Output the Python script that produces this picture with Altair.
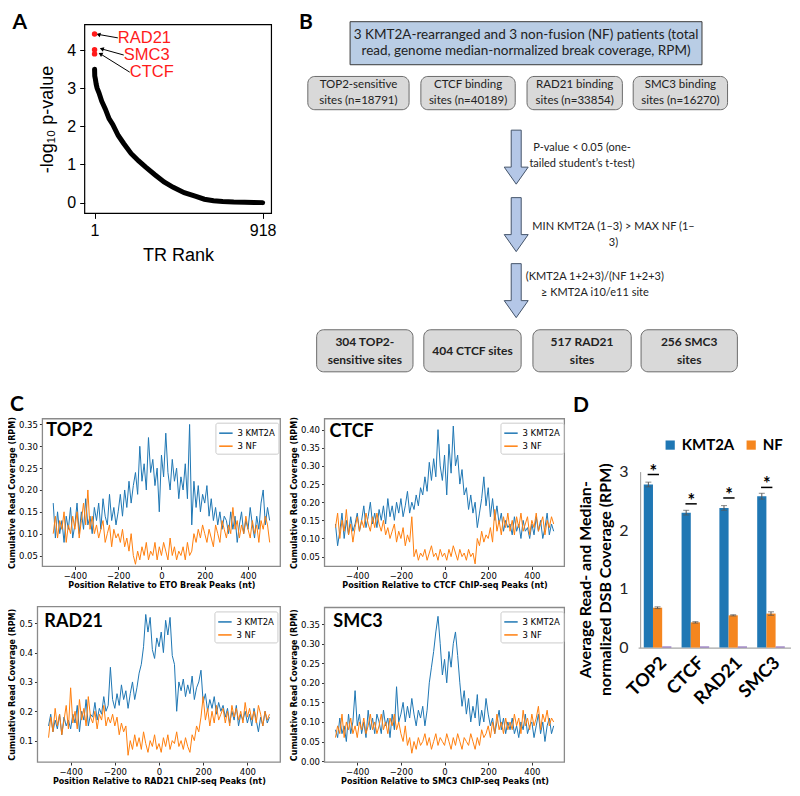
import altair as alt
import pandas as pd

# ---------------------------------------------------------------- layout helpers
W, H = 784, 780


def cx(x):
    return (x - 1) * 0.983


def cy(y):
    return (y - 1) * 0.978


# ---------------------------------------------------------------- data: panel A
tr_rank = [1, 2, 5, 10, 15, 25, 40, 60, 80, 100, 130, 160, 200, 240, 280, 330,
           380, 430, 490, 550, 600, 650, 700, 760, 820, 870, 918]
tr_logp = [3.50, 3.32, 3.25, 3.10, 3.00, 2.88, 2.66, 2.45, 2.20, 2.05, 1.76, 1.55,
           1.29, 1.10, 0.93, 0.73, 0.54, 0.40, 0.26, 0.17, 0.09, 0.05, 0.03, 0.015,
           0.01, 0.005, 0.0]
top_names = ["RAD21", "SMC3", "CTCF"]
top_rank = [1, 1, 1]
top_logp = [4.42, 4.01, 3.90]

# ---------------------------------------------------------------- data: panel B
header_lines = ["3 KMT2A-rearranged and 3 non-fusion (NF) patients (total",
                "read, genome median-normalized break coverage, RPM)"]
input_sets = [["TOP2-sensitive", "sites (n=18791)"], ["CTCF binding", "sites (n=40189)"],
              ["RAD21 binding", "sites (n=33854)"], ["SMC3 binding", "sites (n=16270)"]]
filter_steps = [["P-value < 0.05 (one-", "tailed student\u2019s t-test)"],
                ["MIN KMT2A (1\u20133) > MAX NF (1\u2013", "3)"],
                ["(KMT2A 1+2+3)/(NF 1+2+3)", "\u2265 KMT2A i10/e11 site"]]
output_sets = [["304 TOP2-", "sensitive sites"], ["404 CTCF sites"],
               ["517 RAD21", "sites"], ["256 SMC3", "sites"]]

# ---------------------------------------------------------------- data: panel C
positions = list(range(-500, 501, 10))
top2_kmt2a = [
    0.17, 0.09, 0.15, 0.10, 0.13, 0.08, 0.14, 0.11, 0.16, 0.09,
    0.12, 0.17, 0.10, 0.15, 0.11, 0.18, 0.12, 0.14, 0.10, 0.16,
    0.13, 0.17, 0.11, 0.18, 0.14, 0.12, 0.19, 0.13, 0.16, 0.12,
    0.15, 0.19, 0.14, 0.20, 0.16, 0.22, 0.17, 0.21, 0.24, 0.19,
    0.30, 0.22, 0.26, 0.20, 0.32, 0.24, 0.27, 0.21, 0.25, 0.15,
    0.28, 0.23, 0.33, 0.24, 0.20, 0.27, 0.22, 0.25, 0.18, 0.23,
    0.20, 0.26, 0.18, 0.35, 0.12, 0.22, 0.16, 0.21, 0.15, 0.19,
    0.17, 0.21, 0.14, 0.18, 0.13, 0.16, 0.12, 0.15, 0.11, 0.14,
    0.13, 0.10, 0.15, 0.11, 0.14, 0.08, 0.12, 0.15, 0.10, 0.13,
    0.11, 0.16, 0.12, 0.09, 0.14, 0.11, 0.17, 0.20, 0.12, 0.16,
    0.13]
top2_nf = [
    0.10, 0.14, 0.09, 0.13, 0.11, 0.15, 0.08, 0.12, 0.10, 0.14,
    0.11, 0.15, 0.09, 0.13, 0.17, 0.12, 0.20, 0.11, 0.14, 0.10,
    0.12, 0.09, 0.11, 0.13, 0.08, 0.10, 0.12, 0.07, 0.11, 0.09,
    0.10, 0.08, 0.11, 0.07, 0.09, 0.06, 0.10, 0.05, 0.03, 0.06,
    0.04, 0.07, 0.05, 0.08, 0.04, 0.06, 0.05, 0.08, 0.04, 0.07,
    0.05, 0.08, 0.06, 0.04, 0.09, 0.05, 0.07, 0.04, 0.06, 0.05,
    0.07, 0.04, 0.08, 0.05, 0.06, 0.10, 0.08, 0.11, 0.09, 0.12,
    0.10, 0.08, 0.11, 0.09, 0.07, 0.12, 0.10, 0.08, 0.13, 0.11,
    0.09, 0.12, 0.10, 0.16, 0.11, 0.13, 0.09, 0.12, 0.10, 0.14,
    0.11, 0.09, 0.13, 0.10, 0.12, 0.08, 0.13, 0.11, 0.14, 0.12,
    0.08]
ctcf_kmt2a = [
    0.14, 0.08, 0.12, 0.17, 0.10, 0.15, 0.11, 0.16, 0.12, 0.14,
    0.17, 0.12, 0.15, 0.19, 0.13, 0.16, 0.20, 0.14, 0.17, 0.13,
    0.18, 0.15, 0.19, 0.14, 0.21, 0.16, 0.19, 0.15, 0.20, 0.17,
    0.21, 0.16, 0.19, 0.23, 0.17, 0.20, 0.18, 0.22, 0.19, 0.24,
    0.22, 0.27, 0.23, 0.31, 0.26, 0.32, 0.27, 0.40, 0.30, 0.26,
    0.33, 0.22, 0.36, 0.28, 0.41, 0.30, 0.33, 0.25, 0.29, 0.22,
    0.24, 0.18, 0.22, 0.17, 0.20, 0.13, 0.17, 0.21, 0.27, 0.19,
    0.24, 0.16, 0.21, 0.15, 0.19, 0.14, 0.17, 0.12, 0.15, 0.13,
    0.14, 0.11, 0.16, 0.12, 0.14, 0.10, 0.15, 0.12, 0.13, 0.10,
    0.14, 0.11, 0.16, 0.12, 0.15, 0.10, 0.13, 0.17, 0.11, 0.14,
    0.12]
ctcf_nf = [
    0.13, 0.17, 0.10, 0.15, 0.12, 0.18, 0.11, 0.14, 0.09, 0.13,
    0.16, 0.12, 0.15, 0.13, 0.17, 0.14, 0.12, 0.16, 0.13, 0.17,
    0.14, 0.12, 0.15, 0.11, 0.13, 0.10, 0.12, 0.14, 0.09, 0.12,
    0.10, 0.13, 0.08, 0.11, 0.09, 0.16, 0.05, 0.07, 0.04, 0.06,
    0.05, 0.07, 0.04, 0.06, 0.08, 0.05, 0.06, 0.04, 0.07, 0.05,
    0.06, 0.04, 0.07, 0.05, 0.08, 0.06, 0.04, 0.07, 0.05, 0.06,
    0.04, 0.07, 0.05, 0.06, 0.03, 0.10, 0.08, 0.12, 0.09, 0.11,
    0.10, 0.13, 0.09, 0.18, 0.12, 0.15, 0.11, 0.16, 0.13, 0.17,
    0.12, 0.15, 0.11, 0.16, 0.13, 0.17, 0.12, 0.14, 0.16, 0.11,
    0.15, 0.13, 0.17, 0.12, 0.14, 0.16, 0.11, 0.15, 0.13, 0.16,
    0.14]
rad21_kmt2a = [
    0.15, 0.19, 0.13, 0.17, 0.14, 0.19, 0.12, 0.18, 0.15, 0.17,
    0.14, 0.19, 0.16, 0.22, 0.13, 0.20, 0.17, 0.24, 0.15, 0.19,
    0.18, 0.23, 0.17, 0.21, 0.19, 0.25, 0.20, 0.22, 0.35, 0.24,
    0.21, 0.26, 0.22, 0.29, 0.24, 0.27, 0.21, 0.26, 0.30, 0.24,
    0.28, 0.33, 0.36, 0.42, 0.53, 0.47, 0.52, 0.41, 0.38, 0.45,
    0.42, 0.47, 0.40, 0.51, 0.46, 0.52, 0.39, 0.36, 0.20, 0.30,
    0.27, 0.31, 0.25, 0.29, 0.26, 0.32, 0.24, 0.28, 0.30, 0.34,
    0.23, 0.26, 0.20, 0.24, 0.21, 0.25, 0.19, 0.23, 0.20, 0.22,
    0.18, 0.21, 0.16, 0.20, 0.17, 0.22, 0.15, 0.19, 0.17, 0.20,
    0.16, 0.19, 0.15, 0.21, 0.17, 0.13, 0.18, 0.15, 0.20, 0.16,
    0.18]
rad21_nf = [
    0.11, 0.18, 0.13, 0.21, 0.15, 0.19, 0.12, 0.17, 0.22, 0.14,
    0.28, 0.16, 0.20, 0.14, 0.24, 0.17, 0.21, 0.15, 0.25, 0.18,
    0.16, 0.20, 0.14, 0.19, 0.17, 0.22, 0.15, 0.18, 0.16, 0.19,
    0.15, 0.18, 0.12, 0.16, 0.13, 0.15, 0.05, 0.10, 0.07, 0.12,
    0.08, 0.11, 0.07, 0.13, 0.09, 0.06, 0.10, 0.08, 0.12, 0.07,
    0.09, 0.06, 0.11, 0.08, 0.12, 0.07, 0.10, 0.09, 0.13, 0.08,
    0.10, 0.07, 0.11, 0.08, 0.06, 0.12, 0.10, 0.15, 0.13, 0.18,
    0.25, 0.17, 0.21, 0.15, 0.20, 0.16, 0.22, 0.17, 0.19, 0.21,
    0.16, 0.20, 0.15, 0.22, 0.18, 0.21, 0.17, 0.20, 0.16, 0.23,
    0.18, 0.21, 0.17, 0.20, 0.16, 0.22, 0.19, 0.15, 0.20, 0.17,
    0.19]
smc3_kmt2a = [
    0.08, 0.06, 0.11, 0.07, 0.09, 0.05, 0.12, 0.07, 0.10, 0.18,
    0.09, 0.12, 0.07, 0.10, 0.06, 0.13, 0.08, 0.11, 0.07, 0.12,
    0.10, 0.07, 0.13, 0.09, 0.11, 0.06, 0.12, 0.08, 0.19, 0.10,
    0.12, 0.15, 0.10, 0.14, 0.11, 0.16, 0.12, 0.09, 0.13, 0.11,
    0.14, 0.09, 0.13, 0.20, 0.24, 0.28, 0.33, 0.37, 0.30, 0.22,
    0.26, 0.20, 0.28, 0.24, 0.30, 0.33, 0.27, 0.20, 0.14, 0.18,
    0.12, 0.16, 0.10, 0.14, 0.11, 0.17, 0.09, 0.13, 0.10, 0.16,
    0.12, 0.09, 0.11, 0.07, 0.10, 0.13, 0.08, 0.11, 0.07, 0.10,
    0.08, 0.11, 0.07, 0.09, 0.06, 0.10, 0.08, 0.12, 0.07, 0.09,
    0.10, 0.06, 0.09, 0.12, 0.07, 0.10, 0.05, 0.09, 0.11, 0.07,
    0.09]
smc3_nf = [
    0.06, 0.09, 0.07, 0.12, 0.06, 0.10, 0.08, 0.11, 0.07, 0.09,
    0.06, 0.10, 0.08, 0.11, 0.07, 0.09, 0.12, 0.08, 0.10, 0.07,
    0.09, 0.12, 0.08, 0.10, 0.07, 0.11, 0.09, 0.12, 0.08, 0.10,
    0.07, 0.05, 0.09, 0.04, 0.06, 0.02, 0.05, 0.03, 0.06, 0.04,
    0.05, 0.07, 0.04, 0.06, 0.03, 0.05, 0.07, 0.04, 0.06, 0.05,
    0.04, 0.07, 0.05, 0.03, 0.06, 0.04, 0.07, 0.05, 0.03, 0.06,
    0.05, 0.04, 0.07, 0.05, 0.03, 0.06, 0.04, 0.08, 0.06, 0.07,
    0.09, 0.06, 0.10, 0.07, 0.12, 0.08, 0.10, 0.07, 0.11, 0.08,
    0.10, 0.08, 0.12, 0.09, 0.11, 0.07, 0.13, 0.09, 0.11, 0.08,
    0.12, 0.09, 0.11, 0.14, 0.08, 0.12, 0.10, 0.13, 0.09, 0.11,
    0.10]

# ---------------------------------------------------------------- data: panel D
d_cats = ["TOP2", "CTCF", "RAD21", "SMC3"]
d_kmt2a = [2.78, 2.30, 2.38, 2.58]
d_kmt2a_err = [0.04, 0.04, 0.04, 0.05]
d_nf = [0.68, 0.43, 0.55, 0.58]
d_nf_err = [0.015, 0.012, 0.01, 0.03]
d_other = [0.02, 0.02, 0.02, 0.02]
d_sig = [2.95, 2.45, 2.55, 2.73]

ONE = pd.DataFrame({"k": [0]})
BLUE, ORANGE = "#1f77b4", "#ff7f0e"

# ================================================================ panel A
ax0, ax1, ay0, ay1 = 79, 269, 18, 211
a_xdom, a_ydom = [-53, 966], [-0.282, 4.667]
xA = alt.Scale(domain=a_xdom, range=[cx(ax0), cx(ax1)], nice=False, zero=False)
yA = alt.Scale(domain=a_ydom, range=[cy(ay1), cy(ay0)], nice=False, zero=False)
fontA = "Liberation Sans"

a_curve = pd.DataFrame({"rank": tr_rank, "logp": tr_logp})
a_top = pd.DataFrame({"rank": top_rank, "logp": top_logp, "name": top_names})
# annotation layout (label anchor and arrow head, in data units)
a_ann = pd.DataFrame({
    "name": top_names,
    "lx": [128, 160, 193], "ly": [4.32, 3.87, 3.42],
    "hx": [22, 40, 33], "hy": [4.41, 4.03, 3.90],
    "ang": [284, 288, 299],
})

a_line = alt.Chart(a_curve).mark_line(color="black", strokeWidth=5, strokeCap="round").encode(
    x=alt.X("rank:Q", scale=xA, axis=alt.Axis(
        orient="bottom", offset=cy(ay1) - H, values=[1, 918], format="d", title="TR Rank",
        domain=False, tickColor="black", tickSize=5, labelFont=fontA, labelFontSize=16,
        labelColor="black", labelPadding=4, titleFont=fontA, titleFontSize=18,
        titleFontWeight="normal", titleColor="black", titlePadding=8)),
    y=alt.Y("logp:Q", scale=yA, axis=alt.Axis(
        orient="left", offset=-cx(ax0), values=[0, 1, 2, 3, 4], format="d",
        title="-log\u2081\u2080 p-value",
        domain=False, tickColor="black", tickSize=5, labelFont=fontA, labelFontSize=16,
        labelColor="black", labelPadding=4, titleFont=fontA, titleFontSize=18,
        titleFontWeight="normal", titleColor="black", titlePadding=10)),
)
a_frame = alt.Chart(ONE).mark_rect(filled=False, stroke="black", strokeWidth=1.2).encode(
    x=alt.datum(a_xdom[0]), x2=alt.datum(a_xdom[1]),
    y=alt.datum(a_ydom[0]), y2=alt.datum(a_ydom[1]))
a_red = alt.Chart(a_top).mark_circle(color="#ff1a1a", size=30, opacity=1).encode(
    x="rank:Q", y="logp:Q")
a_txt = alt.Chart(a_ann).mark_text(color="#ff1a1a", font=fontA, fontSize=16.5, align="left",
                                   baseline="middle").encode(x="lx:Q", y="ly:Q", text="name:N")
a_arr = alt.Chart(a_ann).mark_rule(color="black", strokeWidth=1).encode(
    x="lx:Q", y="ly:Q", x2="hx:Q", y2="hy:Q")
a_head = alt.Chart(a_ann).mark_point(shape="triangle-up", filled=True, color="black",
                                     size=22, opacity=1).encode(
    x="hx:Q", y="hy:Q", angle=alt.Angle("ang:Q", scale=None))
panelA = alt.layer(a_frame, a_line, a_arr, a_head, a_red, a_txt)

# ================================================================ panel B
xB = alt.Scale(domain=[0, 800], range=[cx(0), cx(800)], nice=False, zero=False)
yB = alt.Scale(domain=[0, 800], range=[cy(0), cy(800)], nice=False, zero=False)
fontB = "Lato"
LH = 16  # line height of flowchart text

in_x = [(306, 409), (421, 517), (529, 626), (637, 733)]
out_x = [(315, 413), (424, 523), (535, 635), (645, 743)]
in_y, out_y = (71, 105), (330, 373)
head_box = (349, 707, 15, 59)
arrow_x = 518
arrow_y = [153.5, 222.5, 290]
step_txt_xy = [(585, 152), (617, 233), (598, 284)]


def first_line_y(center, lines, lh):
    return center - (len(lines) - 1) * lh / 2


b_head = pd.DataFrame({"x0": [head_box[0]], "x1": [head_box[1]],
                       "y0": [head_box[2]], "y1": [head_box[3]]})
b_boxes = pd.DataFrame({
    "x0": [a for a, b in in_x] + [a for a, b in out_x],
    "x1": [b for a, b in in_x] + [b for a, b in out_x],
    "y0": [in_y[0]] * 4 + [out_y[0]] * 4,
    "y1": [in_y[1]] * 4 + [out_y[1]] * 4,
})
in_cy = (in_y[0] + in_y[1]) / 2
out_cy = (out_y[0] + out_y[1]) / 2
b_text_norm = pd.DataFrame({
    "t": ["\n".join(header_lines)] + ["\n".join(s) for s in input_sets]
         + ["\n".join(s) for s in filter_steps],
    "x": [(head_box[0] + head_box[1]) / 2] + [(a + b) / 2 for a, b in in_x]
         + [p[0] for p in step_txt_xy],
    "y": [first_line_y((head_box[2] + head_box[3]) / 2, header_lines, LH)]
         + [first_line_y(in_cy, s, LH) for s in input_sets]
         + [first_line_y(p[1], s, LH) for p, s in zip(step_txt_xy, filter_steps)],
    "fs": [13.5] + [11.5] * 4 + [11] * 3,
})
b_text_bold = pd.DataFrame({
    "t": ["\n".join(s) for s in output_sets],
    "x": [(a + b) / 2 for a, b in out_x],
    "y": [first_line_y(out_cy, s, LH + 2) for s in output_sets],
})
b_arrows = pd.DataFrame({"x": [arrow_x] * 3, "y": arrow_y})
ARROW = "M-0.185,-1L0.185,-1L0.185,0.37L0.444,0.37L0,1L-0.444,0.37L-0.185,0.37Z"

b_h = alt.Chart(b_head).mark_rect(fill="#b9cde5", stroke="#3a3a3a", strokeWidth=1).encode(
    x=alt.X("x0:Q", scale=xB, axis=None), x2="x1:Q",
    y=alt.Y("y0:Q", scale=yB, axis=None), y2="y1:Q")
b_b = alt.Chart(b_boxes).mark_rect(fill="#d9d9d9", stroke="#6b6b6b", strokeWidth=1,
                                   cornerRadius=7).encode(
    x="x0:Q", x2="x1:Q", y="y0:Q", y2="y1:Q")
b_a = alt.Chart(b_arrows).mark_point(shape=ARROW, size=2916, filled=True, fill="#b4c7e7",
                                     stroke="#44546a", strokeWidth=1, opacity=1).encode(
    x="x:Q", y="y:Q")
b_t1 = alt.Chart(b_text_norm).mark_text(font=fontB, color="#222", lineBreak="\n",
                                        lineHeight=LH, baseline="middle").encode(
    x="x:Q", y="y:Q", text="t:N", size=alt.Size("fs:Q", scale=None))
b_t2 = alt.Chart(b_text_bold).mark_text(font=fontB, fontWeight="bold", fontSize=12,
                                        color="#222", lineBreak="\n", lineHeight=LH + 2,
                                        baseline="middle").encode(
    x="x:Q", y="y:Q", text="t:N")
panelB = alt.layer(b_h, b_b, b_a, b_t1, b_t2)

# ================================================================ panel C
fontC = "DejaVu Sans"


def line_panel(name, xtitle, ka, nf, box, ydom, yvals, yfmt, leg_xy, lab_xy):
    left, right, top, bottom = box
    n = len(positions)
    df = pd.DataFrame({"pos": positions * 2, "val": ka + nf,
                       "series": ["3 KMT2A"] * n + ["3 NF"] * n})
    xdom = [-550, 549]
    xs = alt.Scale(domain=xdom, range=[cx(left), cx(right)], nice=False, zero=False)
    ys = alt.Scale(domain=ydom, range=[cy(bottom), cy(top)], nice=False, zero=False)
    common = dict(domain=False, tickColor="#333", tickSize=3, labelFont=fontC,
                  labelFontSize=8.5, labelColor="black", labelPadding=2, titleFont=fontC,
                  titleFontSize=8, titleFontWeight="bold", titleColor="black")
    lines = alt.Chart(df).mark_line(strokeWidth=1).encode(
        x=alt.X("pos:Q", scale=xs, axis=alt.Axis(
            orient="bottom", offset=cy(bottom) - H, values=[-400, -200, 0, 200, 400],
            title=xtitle, titlePadding=2, **common)),
        y=alt.Y("val:Q", scale=ys, axis=alt.Axis(
            orient="left", offset=-cx(left), values=yvals, format=yfmt,
            title="Cumulative Read Coverage (RPM)", titlePadding=2, **common)),
        color=alt.Color("series:N", title=None,
                        scale=alt.Scale(domain=["3 KMT2A", "3 NF"], range=[BLUE, ORANGE]),
                        legend=alt.Legend(orient="none", legendX=cx(leg_xy[0]),
                                          legendY=cy(leg_xy[1]), symbolType="stroke",
                                          symbolSize=180, symbolStrokeWidth=1.5,
                                          labelFont=fontC, labelFontSize=8.5,
                                          labelColor="black", fillColor="white",
                                          strokeColor="#cccccc", padding=3,
                                          cornerRadius=2, rowPadding=1, labelOffset=4)),
    )
    frame = alt.Chart(ONE).mark_rect(filled=False, stroke="#8a8a8a", strokeWidth=1.3).encode(
        x=alt.datum(xdom[0]), x2=alt.datum(xdom[1]),
        y=alt.datum(ydom[0]), y2=alt.datum(ydom[1]))
    label = alt.Chart(ONE).mark_text(text=name, font="Lato", fontWeight="bold", fontSize=18,
                                     align="left", baseline="middle", color="black").encode(
        x=alt.value(cx(lab_xy[0])), y=alt.value(cy(lab_xy[1])))
    return alt.layer(lines, frame, label)


pTop2 = line_panel("TOP2", "Position Relative to ETO Break Peaks (nt)", top2_kmt2a, top2_nf,
                   (36, 278, 421, 572), [0.025, 0.363],
                   [0.05, 0.10, 0.15, 0.20, 0.25, 0.30, 0.35], ".2f", (212, 425), (40, 434))
pCtcf = line_panel("CTCF", "Position Relative to CTCF ChIP-seq Peaks (nt)", ctcf_kmt2a, ctcf_nf,
                   (323, 567, 421, 572), [0.023, 0.43],
                   [0.05, 0.10, 0.15, 0.20, 0.25, 0.30, 0.35, 0.40], ".2f", (502, 425), (328, 435))
pRad = line_panel("RAD21", "Position Relative to RAD21 ChIP-seq Peaks (nt)", rad21_kmt2a, rad21_nf,
                  (31, 278, 613, 772), [0.027, 0.557],
                  [0.1, 0.2, 0.3, 0.4, 0.5], ".1f", (211, 618), (38, 629))
pSmc = line_panel("SMC3", "Position Relative to SMC3 ChIP-seq Peaks (nt)", smc3_kmt2a, smc3_nf,
                  (323, 567, 614, 772), [-0.0025, 0.3925],
                  [0.0, 0.05, 0.10, 0.15, 0.20, 0.25, 0.30, 0.35], ".2f", (502, 618), (332, 629))

# ================================================================ panel D
fontD = "Lato"
d_df = pd.DataFrame({
    "cat": d_cats * 3,
    "series": ["KMT2A"] * 4 + ["NF"] * 4 + ["Other"] * 4,
    "value": d_kmt2a + d_nf + d_other,
    "err": d_kmt2a_err + d_nf_err + [0.0] * 4,
})
d_df["lo"] = d_df["value"] - d_df["err"]
d_df["hi"] = d_df["value"] + d_df["err"]
d_err = d_df[d_df["err"] > 0]
d_sig_df = pd.DataFrame({"cat": d_cats, "sig": d_sig})

dx0, dx1, dy0, dy3 = 642, 797, 655, 475
xD = alt.Scale(domain=d_cats, range=[cx(dx0), cx(dx1)], paddingInner=0.27, paddingOuter=0.15)
yD = alt.Scale(domain=[0, 3], range=[cy(dy0), cy(dy3)], nice=False, zero=False)
offD = alt.Scale(domain=["KMT2A", "NF", "Other"], paddingInner=0, paddingOuter=0)
SER = ["KMT2A", "NF", "Other"]

d_bars = alt.Chart(d_df).mark_bar().encode(
    x=alt.X("cat:N", sort=d_cats, scale=xD, title=None, axis=alt.Axis(
        orient="bottom", offset=cy(dy0) - H, domain=True, domainColor="#a6a6a6",
        domainWidth=1.2, ticks=False, labelAngle=315, labelFont=fontD, labelFontSize=18,
        labelFontWeight="bold", labelColor="black", labelPadding=6)),
    xOffset=alt.XOffset("series:N", scale=offD, sort=SER),
    y=alt.Y("value:Q", scale=yD, axis=alt.Axis(
        orient="left", offset=-cx(644), values=[0, 1, 2, 3], format="d", domain=True,
        domainColor="#a6a6a6", domainWidth=1.2, ticks=False, labelFont=fontD,
        labelFontSize=16, labelColor="#222", labelPadding=12,
        title=["Average Read- and Median-", "normalized DSB Coverage (RPM)"],
        titleFont=fontD, titleFontSize=16, titleFontWeight="bold", titleColor="black",
        titleAngle=270, titleAlign="center", titleBaseline="middle", titleLineHeight=20,
        titleX=cx(588) - cx(644), titleY=cy(585))),
    color=alt.Color("series:N", title=None,
                    scale=alt.Scale(domain=SER, range=[BLUE, "#f5861f", "#8a6bb8"]),
                    legend=alt.Legend(orient="none", legendX=cx(667), legendY=cy(440),
                                      direction="horizontal", values=["KMT2A", "NF"],
                                      symbolType="square", symbolSize=85,
                                      symbolStrokeWidth=0, labelFont=fontD,
                                      labelFontWeight="bold", labelFontSize=15,
                                      labelColor="black", columnPadding=9, labelOffset=4,
                                      padding=0)),
)
d_errs = alt.Chart(d_err).mark_rule(color="#555555", strokeWidth=1).encode(
    x=alt.X("cat:N", sort=d_cats), xOffset=alt.XOffset("series:N", sort=SER),
    y="lo:Q", y2="hi:Q")
d_cap_hi = alt.Chart(d_err).mark_tick(color="#555555", thickness=1, size=6).encode(
    x=alt.X("cat:N", sort=d_cats), xOffset=alt.XOffset("series:N", sort=SER), y="hi:Q")
d_cap_lo = alt.Chart(d_err).mark_tick(color="#555555", thickness=1, size=6).encode(
    x=alt.X("cat:N", sort=d_cats), xOffset=alt.XOffset("series:N", sort=SER), y="lo:Q")
d_sigline = alt.Chart(d_sig_df).mark_rule(color="black", strokeWidth=1.5).encode(
    x=alt.X("cat:N", sort=d_cats, bandPosition=0.14),
    x2=alt.X2("cat:N", bandPosition=0.55), y="sig:Q")
d_star = alt.Chart(d_sig_df).mark_text(text="*", font=fontD, fontWeight="bold", fontSize=18,
                                       baseline="alphabetic", dy=3, color="black").encode(
    x=alt.X("cat:N", sort=d_cats, bandPosition=0.35), y="sig:Q")
panelD = alt.layer(d_bars, d_errs, d_cap_hi, d_cap_lo, d_sigline, d_star)

# ================================================================ panel letters


def letter(t, x, y):
    return alt.Chart(ONE).mark_text(text=t, font="Lato", fontWeight="bold", fontSize=21,
                                    align="center", baseline="alphabetic", color="black").encode(
        x=alt.value(cx(x)), y=alt.value(cy(y)))


letters = alt.layer(letter("A", 13, 22), letter("B", 304, 22), letter("C", 10, 413),
                    letter("D", 584, 414))

chart = alt.layer(panelA, panelB, pTop2, pCtcf, pRad, pSmc, panelD, letters).resolve_scale(
    x="independent", y="independent", color="independent"
).properties(
    width=W, height=H, padding=0, autosize=alt.AutoSizeParams(type="none")
).configure_view(strokeWidth=0).configure_axis(grid=False)

chart.save("out.html", embed_options={"renderer": "svg", "actions": False})
